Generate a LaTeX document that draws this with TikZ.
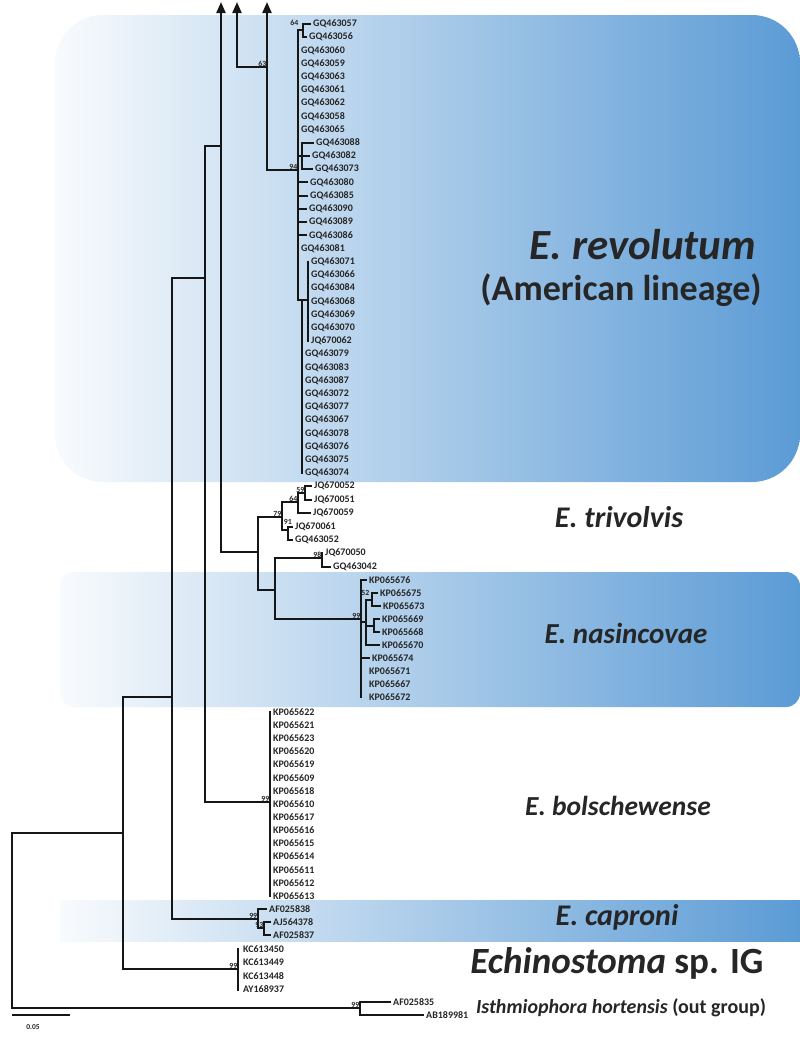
\documentclass[tikz,border=0pt]{standalone}
\usepackage{fontspec}
\setmainfont{Carlito}
\usetikzlibrary{arrows.meta}
\definecolor{boxblue}{RGB}{91,155,213}
\definecolor{ink}{RGB}{22,22,22}
\definecolor{txt}{RGB}{38,38,38}
\newcommand\lf[5]{\draw[br] (#1) |- (#3,#4) coordinate (t#2); \node[leaf] (n#2) at (t#2) {#5};}
\begin{document}
\begin{tikzpicture}[x=1pt,y=-1pt,
  br/.style={line width=2.1pt, draw=ink, line cap=rect},
  arr/.style={-{Triangle[width=9pt,length=11pt]}},
  leaf/.style={anchor=west, inner sep=0.5pt, xshift=2.5pt, font=\fontsize{10}{10}\selectfont\bfseries, text=txt},
  bs/.style={anchor=south east, inner sep=0.6pt, font=\fontsize{7.8}{8}\selectfont\bfseries, text=txt},
  sp/.style={text=txt},
  band/.style={left color=boxblue!4, right color=boxblue}]
\useasboundingbox (0,0) rectangle (800,1037);
\fill[white] (0,0) rectangle (800,1037);
% background bands
\path[band, rounded corners=48pt] (55,15) rectangle (800,482);
\path[band, rounded corners=14pt] (60,572) rectangle (800,707);
\path[band] (60,900) rectangle (800,941);
% internal nodes
\coordinate (R) at (12,920);
\coordinate (A) at (123,833);
\coordinate (O) at (360,1008);
\coordinate (B) at (172,697);
\coordinate (IG) at (238,969);
\coordinate (C) at (205,278);
\coordinate (CAP) at (258,919);
\coordinate (CAP2) at (264,928);
\coordinate (D) at (221,146);
\coordinate (BOL) at (270,802);
\coordinate (E) at (258,552);
\coordinate (T) at (282,517);
\coordinate (T1) at (298,502);
\coordinate (T11) at (305,493);
\coordinate (T2) at (288,530);
\coordinate (F) at (275,590);
\coordinate (G) at (322,558);
\coordinate (N) at (361,619);
\coordinate (N1) at (366,622);
\coordinate (N2) at (372,600);
\coordinate (N3) at (374,626);
\coordinate (P) at (237,67);
\coordinate (Q) at (267,170);
\coordinate (RV) at (298,170);
\coordinate (RV1) at (303,30);
\coordinate (S1) at (302,156);
\coordinate (RVB) at (302,300);
\coordinate (RVC) at (308,300);
\coordinate (Dtop) at (221,2);
\coordinate (Ptop) at (237,2);
\coordinate (Qtop) at (267,2);
% backbone
\draw[br] (R) |- (A);
\draw[br] (R) |- (O);
\draw[br] (A) |- (B);
\draw[br] (A) |- (IG);
\draw[br] (B) |- (C);
\draw[br] (B) |- (CAP);
\draw[br] (C) |- (D);
\draw[br] (C) |- (BOL);
\draw[br] (D) |- (E);
\draw[br,arr] (D) -- (Dtop);
\draw[br,arr] (P) -- (Ptop);
\draw[br] (P) -- (P -| Q);
\draw[br,arr] (Q) -- (Qtop);
\draw[br] (Q) -- (RV);
\draw[br] (E) |- (T);
\draw[br] (E) |- (F);
\draw[br] (T) |- (T1);
\draw[br] (T) |- (T2);
\draw[br] (T1) |- (T11);
\draw[br] (F) |- (G);
\draw[br] (F) |- (N);
\draw[br] (N) |- (N1);
\draw[br] (N1) |- (N2);
\draw[br] (N1) |- (N3);
\draw[br] (CAP) |- (CAP2);
\draw[br] (RV) |- (RV1);
\draw[br] (RV) |- (S1);
\draw[br] (RV) |- (RVB);
\draw[br] (RVB) |- (RVC);
% revolutum leaves
\lf{RV1}{057}{310}{24}{GQ463057}
\lf{RV1}{056}{306}{37.2}{GQ463056}
\foreach \n/\y in {060/50.4,059/63.6,063/76.8,061/90,062/103.2,058/116.4,065/129.6,081/248.4}
  {\draw[br] (RV) |- (298,\y) coordinate (t\n); \node[leaf] (n\n) at (t\n) {GQ463\n};}
\foreach \n/\y/\x in {080/182.4/307,085/195.6/307,090/208.8/306,089/222/306,086/235.2/306}
  {\draw[br] (RV) |- (\x,\y) coordinate (t\n); \node[leaf] (n\n) at (t\n) {GQ463\n};}
\lf{S1}{088}{313}{142.8}{GQ463088}
\lf{S1}{082}{309}{156}{GQ463082}
\lf{S1}{073}{312}{169.2}{GQ463073}
\foreach \n/\y in {071/261.6,066/274.8,084/288,068/301.2,069/314.4,070/327.6}
  {\draw[br] (RVC) |- (308,\y) coordinate (t\n); \node[leaf] (n\n) at (t\n) {GQ463\n};}
\lf{RVC}{j062}{308}{340.8}{JQ670062}
\foreach \n/\y in {079/354,083/367.2,087/380.4,072/393.6,077/406.8,067/420,078/433.2,076/446.4,075/459.6,074/472.8}
  {\draw[br] (RVB) |- (302,\y) coordinate (t\n); \node[leaf] (n\n) at (t\n) {GQ463\n};}
% trivolvis
\lf{T11}{j052}{311}{486}{JQ670052}
\lf{T11}{j051}{311}{500}{JQ670051}
\lf{T1}{j059}{310}{513}{JQ670059}
\lf{T2}{j061}{292}{527}{JQ670061}
\lf{T2}{g052}{292}{540}{GQ463052}
\lf{G}{j050}{322}{553}{JQ670050}
\lf{G}{g042}{330}{567}{GQ463042}
% nasincovae
\lf{N}{k676}{366}{580}{KP065676}
\lf{N2}{k675}{377}{593}{KP065675}
\lf{N2}{k673}{380}{606}{KP065673}
\lf{N3}{k669}{379}{619}{KP065669}
\lf{N3}{k668}{379}{632}{KP065668}
\lf{N1}{k670}{379}{645}{KP065670}
\lf{N}{k674}{369}{658}{KP065674}
\foreach \n/\y in {671/671,667/684,672/697}
  {\draw[br] (N) |- (361,\y) coordinate (tk\n); \node[leaf,xshift=5pt] (nk\n) at (tk\n) {KP065\n};}
% bolschewense
\foreach \n [count=\i from 0] in {622,621,623,620,619,609,618,610,617,616,615,614,611,612,613}
  {\draw[br] (BOL) |- (270,712+13.14*\i) coordinate (tb\n); \node[leaf] (nb\n) at (tb\n) {KP065\n};}
% caproni
\lf{CAP}{c838}{266}{909}{AF025838}
\lf{CAP2}{c378}{270}{922}{AJ564378}
\lf{CAP2}{c837}{270}{935}{AF025837}
% Echinostoma sp. IG
\foreach \n/\t/\y in {k450/KC613450/949,k449/KC613449/962.5,k448/KC613448/976,a937/AY168937/989.5}
  {\draw[br] (IG) |- (238,\y) coordinate (t\n); \node[leaf,xshift=2pt] (n\n) at (t\n) {\t};}
% outgroup
\lf{O}{o835}{390}{1002}{AF025835}
\lf{O}{o981}{423}{1015}{AB189981}
% bootstrap values
\node[bs] at (299,26) {64};
\node[bs] at (P -| Q) {63};
\node[bs] at (RV) {94};
\node[bs] at (T) {79};
\node[bs] at (T11) {59};
\node[bs] at (T1) {64};
\node[bs, anchor=south west] at (283,525) {91};
\node[bs] at (G) {98};
\node[bs] at (N) {99};
\node[bs] at (370,596) {52};
\node[bs] at (BOL) {99};
\node[bs] at (CAP) {99};
\node[bs] at (CAP2) {93};
\node[bs] at (IG) {99};
\node[bs] at (O) {99};
% scale bar
\coordinate (sb1) at (12,1015);
\coordinate (sb2) at (70,1015);
\draw[br, line cap=butt] (sb1) -- (sb2);
\node[font=\fontsize{7.5}{8}\selectfont\bfseries, text=txt] (sbl) at (33,1027) {0.05};
% clade labels
\node[sp, font=\fontsize{43}{46}\selectfont\bfseries\itshape] (l1) at (643,245) {E. revolutum};
\node[sp, font=\fontsize{36}{40}\selectfont\bfseries] (l1b) at (621,290) {(American lineage)};
\node[sp, font=\fontsize{30}{32}\selectfont\bfseries\itshape] (l2) at (619,517) {E. trivolvis};
\node[sp, font=\fontsize{29}{32}\selectfont\bfseries\itshape] (l3) at (626,633) {E. nasincovae};
\node[sp, font=\fontsize{27.5}{30}\selectfont\bfseries\itshape] (l4) at (618,806) {E. bolschewense};
\node[sp, font=\fontsize{30}{32}\selectfont\bfseries\itshape] (l5) at (617,917) {E. caproni};
\node[sp, font=\fontsize{37}{40}\selectfont\bfseries] (l6) at (617,963) {\itshape Echinostoma\upshape{} sp. IG};
\node[sp, font=\fontsize{20}{22}\selectfont\bfseries] (l7) at (621,1008) {\itshape Isthmiophora hortensis\upshape{} (out group)};
\end{tikzpicture}
\end{document}
